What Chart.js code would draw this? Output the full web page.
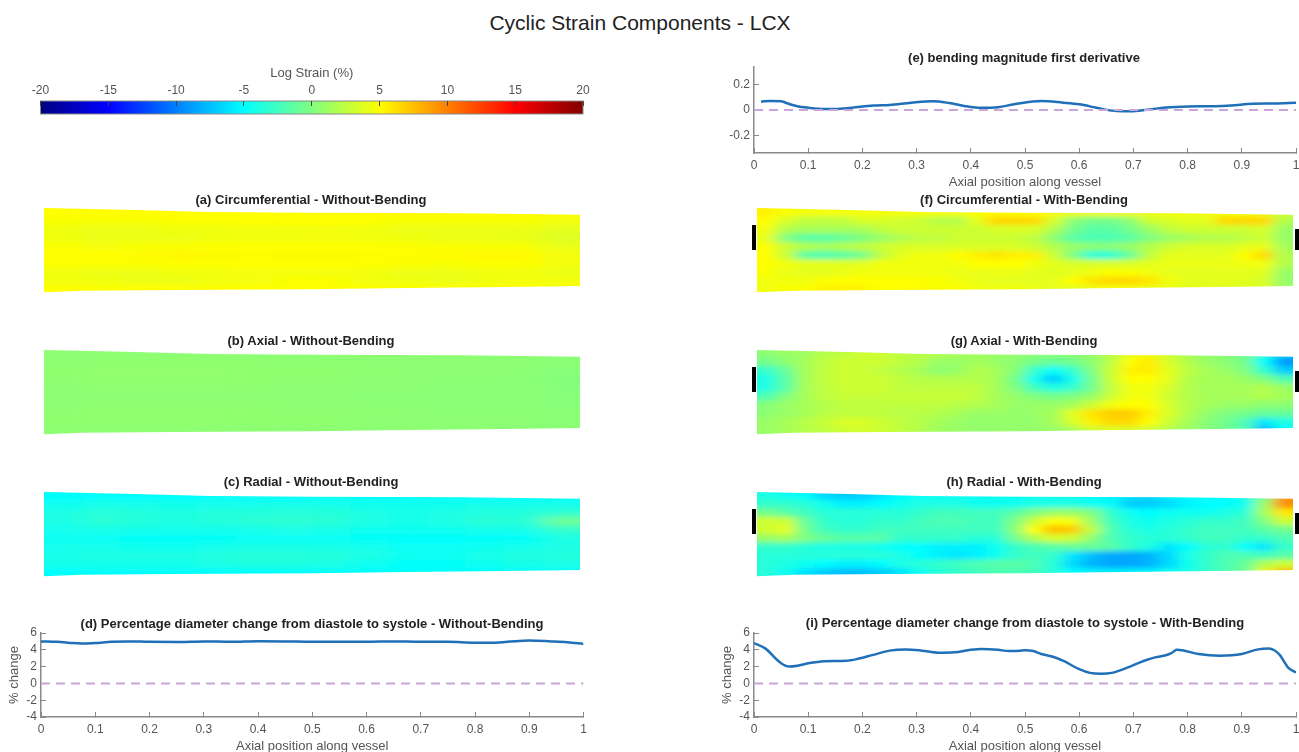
<!DOCTYPE html>
<html>
<head>
<meta charset="utf-8">
<title>Cyclic Strain Components - LCX</title>
<script src="https://cdn.jsdelivr.net/npm/chart.js@4"></script>
<style>
    html, body { margin: 0; padding: 0; background: #fff; width: 1299px; height: 752px; overflow: hidden; }
    body { filter: blur(0.4px); }
    canvas { position: absolute; display: block; }
    .txt { position: absolute; transform: translate(-50%, -50%); white-space: nowrap; color: #222; font-family: "Liberation Sans", Arial, sans-serif; }
    .panelTitle { font-size: 13px; font-weight: bold; }
    .heatWrap { position: absolute; overflow: hidden; }
</style>
</head>
<body>
<svg width="0" height="0" style="position:absolute">
    <filter id="blurFine" x="-5%" y="-10%" width="110%" height="120%"><feGaussianBlur stdDeviation="7 2.6"/></filter>
    <filter id="blurCoarse" x="-5%" y="-10%" width="110%" height="120%"><feGaussianBlur stdDeviation="13 3"/></filter>
</svg>
<div class="txt" style="left:640px;top:23px;font-size:21px">Cyclic Strain Components - LCX</div>
<script>
// Donnees
const axialTicks = [0, 0.1, 0.2, 0.3, 0.4, 0.5, 0.6, 0.7, 0.8, 0.9, 1];
const percentTicks = [-4, -2, 0, 2, 4, 6];
const derivativeTicks = [-0.2, 0, 0.2];
const strainTicks = [-20, -15, -10, -5, 0, 5, 10, 15, 20];
const zeroLineX = [0, 1];
const zeroLineY = [0, 0];

const diameterNoBendX = [0, .03, .06, .08, .1, .13, .16, .2, .25, .3, .35, .4, .45, .5, .55, .6, .65, .7, .75, .8, .83, .86, .9, .94, .97, 1];
const diameterNoBendY = [5, 4.95, 4.8, 4.75, 4.8, 4.95, 5, 4.95, 4.93, 5, 4.95, 5.02, 5, 4.95, 4.95, 4.95, 5, 4.95, 4.95, 4.85, 4.85, 4.95, 5.1, 5, 4.9, 4.7];

const derivativeX = [.013, .03, .05, .06, .08, .1, .13, .15, .18, .22, .25, .29, .33, .36, .39, .42, .45, .48, .53, .57, .6, .63, .66, .68, .7, .73, .76, .8, .85, .88, .92, .96, 1];
const derivativeY = [.066, .072, .07, .055, .03, .018, .008, .008, .018, .035, .04, .058, .07, .055, .03, .017, .022, .045, .071, .058, .045, .02, -.005, -.01, -.009, .005, .02, .028, .03, .035, .05, .052, .058];

const diameterBendX = [0, .02, .05, .065, .08, .1, .13, .17, .19, .22, .25, .28, .31, .34, .37, .4, .42, .45, .47, .49, .5, .515, .53, .55, .57, .6, .62, .64, .66, .69, .72, .74, .76, .77, .78, .79, .82, .86, .9, .93, .95, .96, .97, .98, .985, 1];
const diameterBendY = [4.8, 4.2, 2.4, 2, 2.1, 2.4, 2.65, 2.7, 2.9, 3.4, 3.9, 4.05, 3.9, 3.65, 3.7, 4, 4.1, 4, 3.85, 3.9, 3.95, 3.85, 3.5, 3.2, 2.7, 1.7, 1.25, 1.15, 1.25, 1.9, 2.7, 3.1, 3.35, 3.6, 4, 3.95, 3.5, 3.3, 3.5, 4.05, 4.15, 3.95, 3.4, 2.4, 1.9, 1.3];

// Contour du vaisseau (rayon par rapport a l'axe central)
const vesselTopX = [0, .17, .31, .5, .78, 1];
const vesselTopY = [42, 40, 38, 37.3, 36.7, 35.3];
const vesselBottomX = [0, .07, .24, .5, .64, .9, 1];
const vesselBottomY = [-42.3, -40.7, -40, -39.3, -38.3, -36.7, -36];
const clampX = [-0.0056, 1.0075];
const clampLeftY = [0, 25];
const clampRightY = [0, 21];

// Cartes de deformation (%), une ligne par rangee, de haut en bas
const circNoBend = [
    [5, 5, 5, 5, 5, 5, 5, 5, 5, 5, 5, 5, 5, 4.9],
    [4.8, 4.8, 4.8, 4.9, 4.9, 4.9, 5, 5, 4.9, 4.8, 4.8, 4.8, 4.8, 4.6],
    [4.4, 4.2, 4.3, 4.4, 4.4, 4.5, 4.5, 4.6, 4.4, 4.3, 4.2, 4.2, 4.2, 4],
    [4.4, 4.2, 4.2, 4.3, 4.4, 4.5, 4.5, 4.5, 4.5, 4.4, 4.2, 4.2, 4.1, 3.7],
    [4.8, 4.7, 4.8, 4.9, 5, 5, 5, 5, 5, 4.9, 4.9, 4.8, 4.8, 4.2],
    [5, 5, 5.1, 5.3, 5.2, 5.1, 5.2, 5.2, 5.1, 5.1, 5.1, 5.2, 5.2, 4.6],
    [4.9, 4.9, 4.9, 5, 5, 5, 5, 5, 5, 4.9, 4.8, 4.9, 4.9, 4.5],
    [4.4, 4.3, 4.3, 4.4, 4.5, 4.6, 4.7, 4.6, 4.5, 4.3, 4.2, 4.4, 4.5, 4.3],
    [4.5, 4.4, 4.3, 4.3, 4.5, 4.6, 4.8, 4.8, 4.5, 4.4, 4.3, 4.4, 4.6, 4.5],
    [5, 5, 5, 5, 5, 5, 5, 5, 5, 5, 5, 5, 5, 4.9]
];
const axialNoBend = [
    [.5, .5, .5, .5, .5, .5, .5, .5, .5, .5, .5, .5, .5, .4],
    [.5, .6, .6, .6, .6, .6, .5, .5, .5, .5, .5, .5, .5, .4],
    [.6, .7, .7, .7, .7, .6, .6, .6, .6, .5, .5, .5, .5, .3],
    [.6, .7, .7, .7, .7, .6, .6, .6, .5, .5, .5, .5, .4, .2],
    [.5, .6, .6, .6, .6, .6, .5, .5, .5, .5, .4, .4, .4, .2],
    [.5, .5, .5, .5, .5, .5, .5, .5, .4, .4, .4, .4, .4, .3],
    [.5, .6, .6, .6, .6, .6, .5, .5, .5, .5, .4, .4, .4, .3],
    [.6, .7, .7, .7, .7, .6, .6, .6, .6, .5, .5, .5, .5, .4],
    [.6, .7, .7, .7, .6, .6, .6, .6, .5, .5, .5, .5, .5, .4],
    [.5, .5, .5, .5, .5, .5, .5, .5, .5, .5, .5, .5, .4, .4]
];
const radialNoBend = [
    [-4.9, -4.9, -4.9, -4.9, -4.9, -4.9, -4.9, -4.9, -4.9, -4.9, -4.9, -4.9, -4.9, -4.8],
    [-4.5, -4.3, -4.3, -4.4, -4.3, -4.3, -4.3, -4.3, -4.4, -4.5, -4.5, -4.3, -4.3, -4.3],
    [-4, -3.5, -3.7, -3.9, -3.7, -3.6, -3.5, -3.6, -4, -4.1, -4, -3.7, -3.7, -3.4],
    [-4, -3.3, -3.6, -3.8, -3.6, -3.4, -3.2, -3.4, -3.9, -4.1, -3.9, -3.4, -3.5, -.5],
    [-4.3, -4.1, -4.2, -4.3, -4.3, -4.1, -4, -4.1, -4.4, -4.5, -4.4, -4.2, -4.2, -3],
    [-4.6, -4.7, -4.8, -4.8, -4.8, -4.7, -4.7, -4.7, -4.8, -4.9, -4.9, -4.9, -4.8, -4],
    [-4.3, -4.3, -4.4, -4.5, -4.3, -4.1, -4.1, -4.1, -4.3, -4.6, -4.6, -4.4, -4.3, -4],
    [-4.1, -3.9, -3.9, -4, -3.7, -3.5, -3.5, -3.6, -4, -4.5, -4.6, -4.1, -3.8, -3.7],
    [-4.3, -4.2, -4.2, -4.2, -4, -3.8, -3.8, -4, -4.4, -4.8, -4.8, -4.4, -4.1, -4],
    [-4.9, -4.9, -4.9, -4.9, -4.9, -4.9, -4.9, -4.9, -4.9, -4.9, -4.9, -4.9, -4.9, -4.8]
];
const circBend = [
    [5.5, 4.8, 4.6, 4.6, 4.6, 4.6, 4.6, 4.6, 4.6, 4.6, 4.6, 4.8, 5.2, 5.2, 5, 4.6, 4.5, 4.5, 4.5, 4.5, 4.5, 4.5, 4.5, 4.5, 4.5, 4.5, 4.2, 3],
    [5, 3.5, 2.5, 2.5, 2.5, 3.5, 3.5, 3.2, 3, 2, 2, 4, 6.5, 6.5, 6.5, 3.5, .5, -.5, -.5, .5, 3, 3.5, 4, 4, 6.5, 6.5, 6.5, 2],
    [4.5, 2, 1.5, 1.5, 1.5, 1.5, 2.5, 3, 3, 3, 3, 3, 3.5, 3.5, 3.5, 2, -.5, -1.5, -1.5, -.5, 1, 2.5, 3, 3, 3, 3, 3.5, 1],
    [4, 0, -1.5, -1.5, -1, 0, 1, 1.8, 2.5, 2.5, 3, 3, 3, 3, 2.5, .5, -1.5, -2, -2, -1.5, 0, 1, 1.5, 2, 2, 2.5, 3, 1],
    [4.8, 3, 2, 1.5, 2, 2.5, 3, 3.5, 3.5, 3.5, 3.5, 3.5, 3.5, 3.5, 3, 2, 1, .5, .5, 1, 2, 3, 3.5, 3.5, 3.5, 4, 4.2, 1.5],
    [5, 3, -1.5, -2, -1.5, -.5, 2.5, 4, 4.5, 4.5, 5, 5.5, 6, 5.5, 5.5, 3, 0, -3.5, -3.5, -1, 2.5, 4, 4, 4, 4, 5, 6.5, 2],
    [5, 4.5, 4, 4, 3.8, 4, 4.5, 4.5, 4.5, 4.5, 4.5, 5, 5, 5, 4.5, 4, 3.5, 3.5, 3.5, 3.5, 4, 4.2, 4.2, 4.2, 4.2, 4.5, 4.5, 2],
    [4.8, 4.2, 4, 4, 4.2, 4.5, 4.5, 4.5, 4.5, 4.5, 4.3, 4.2, 4.2, 4.2, 4, 3.8, 4, 4.5, 4.8, 4.8, 4.5, 4, 4, 4, 4, 4, 3.8, 1],
    [4.5, 4.5, 4.5, 4.8, 5, 5, 5, 5, 4.8, 4.8, 4.5, 4.3, 4, 4, 4, 4, 5, 6, 6.5, 6.5, 6, 4.5, 4, 4, 4, 3.8, 3.5, .8],
    [4.5, 4.8, 5, 5.5, 5.5, 5.5, 5, 5, 5, 4.8, 4.8, 4.5, 4.5, 4.5, 4.2, 4, 4, 4.2, 4.5, 4.5, 4.2, 4, 4, 4, 4, 3.8, 3.5, 1.5]
];
const axialBend = [
    [.5, 1, 1.2, 2, 2.5, 3, 3, 2.5, 2.2, 2, 1.5, 1.2, 1, .8, .5, .3, .5, 1, 2, 4, 4.5, 3, 1.5, .8, .3, -.5, -3, -7],
    [-.5, .5, 1.5, 2.5, 3, 3, 3, 2.5, 2, 1, 1, 1.5, 1, .5, -.5, -1, -.5, .5, 2.5, 5, 5.8, 3.5, 2, 1, .5, -.5, -5, -9],
    [-3, -1, 1.5, 2.5, 3, 3, 2.5, 2, 1.5, .5, 1, 2, 1.5, .3, -3, -5, -3, 0, 3, 5.5, 5.8, 4, 2.5, 1.5, 1, 0, -3, -7],
    [-4, -1.5, 1.5, 2.5, 3, 3, 3, 2.5, 2.2, 2, 2, 2, 1.5, -.5, -4.5, -7, -4.5, -.5, 3, 5, 5, 4, 2, 1.5, 1.5, 1, 0, -2],
    [-4, -1.5, 1.5, 2.5, 3, 3, 3, 2.5, 2.5, 2.5, 2.5, 2.5, 1.5, 0, -2.5, -4, -3, -.5, 2.5, 4.5, 4.5, 3.5, 2, 1.5, 1.5, 1.5, 2, 1],
    [-2, 0, 1.5, 2.5, 2.8, 2.8, 2.8, 2.8, 2.8, 2.8, 2.8, 2.5, 1.5, .8, 0, -.5, 0, .8, 3, 4.5, 4.5, 3, 2, 1.5, 1.5, 1.5, 2, 1.5],
    [.2, 1, 1.5, 2, 2.5, 2.5, 2.5, 2.5, 2.5, 2.5, 2.2, 2, 1.5, 1, 1, 1, 1.5, 3, 4.5, 5, 5, 3.5, 2, 1.5, 1, 1, .5, .5],
    [.5, 1, 1.5, 2.2, 2.5, 2.5, 2.5, 2.2, 2.2, 2, 1.5, 1, 1, .8, 1, 1.5, 4, 6, 7, 7, 5.5, 3.5, 2, .8, 0, -.5, -1, -1],
    [1, 1.5, 2.2, 2.8, 3.5, 3.5, 3, 2.5, 2, 1.5, 1, .8, .8, .8, .8, 1.5, 3.5, 5.5, 6.5, 6.5, 5, 3, 1.5, .3, -.5, -2, -6, -4],
    [1, 1.5, 2, 2.5, 3, 3.2, 3, 2.5, 2, 1.2, 1, .8, .8, .8, .8, .8, 1.5, 3, 3.5, 3.5, 3, 2, 1, .3, -.5, -2, -8, -5]
];
const radialBend = [
    [-4, -4.5, -5, -6.5, -7, -7, -6, -5, -4.5, -4.5, -4.5, -4.5, -4.5, -4.5, -4.5, -4.5, -4.5, -5, -5.5, -6, -6.5, -5.5, -5, -5, -5, -4, -1, 9],
    [-3, -3, -3.5, -4.5, -5.5, -5.5, -5, -4.5, -4, -4, -4, -4.5, -4.5, -4.5, -4, -4, -4, -4.5, -5, -7, -7, -6.5, -5.5, -5, -5, -4.5, 1, 9.5],
    [-.5, -1.5, -2.5, -3.5, -3.5, -3.5, -3.5, -3.5, -3, -2.5, -2.5, -2.5, -2.5, -1.5, 0, 1, 1, 0, -3, -4.5, -5, -4.5, -4.5, -4.5, -4, -3.5, 1.5, 6],
    [3, 3, -1, -3, -3.5, -3.5, -3, -3, -2.5, -2, -2, -2.5, -2.5, 0, 3, 5, 4.5, 1, -2.5, -4, -4.5, -4, -3.5, -3, -3, -2.5, 0, 3],
    [3, 4, -.5, -2.5, -3, -3, -2.5, -2.5, -2.5, -2.5, -2.5, -2.5, -2.5, .5, 5, 7.5, 7, 2.5, -2, -3.5, -4, -3.5, -3, -2.5, -2.5, -2.5, -1.5, -.5],
    [1, 1.5, 0, -1, -1.5, -1.5, -1.5, -3, -3, -3, -3, -3.5, -3.5, -.5, 2, 3.5, 3, .5, -2, -3, -3.5, -3.5, -3, -2.5, -2.5, -3, -3, -2],
    [-3, -3, -3.5, -4, -4, -4, -4.5, -5, -5, -5.5, -5.5, -5.5, -4.5, -3, -2, -1.5, -1, -1, -1.5, -3, -4, -6, -5, -3.5, -3, -5, -6, -3],
    [-3.5, -3.5, -3.5, -3.5, -3.5, -3.5, -3.5, -4, -5, -5.5, -6, -5.5, -4.5, -3, -2.5, -3, -6, -7.5, -8.5, -8.5, -8, -6.5, -4, -3, -2, -2, -2.5, -1.5],
    [-3.5, -4, -4.5, -5, -5.5, -5.5, -5, -4, -3.5, -3, -2.5, -2, -1.5, -1.5, -2, -3.5, -6.5, -8, -8.5, -8.5, -8, -6.5, -4.5, -3, -2, -1, 2, 3],
    [-3.5, -4.5, -6, -7, -7.5, -7.5, -7, -6, -4.5, -3.5, -3, -2.5, -2, -2, -2.5, -3.5, -5, -5.5, -5.5, -5.5, -5.5, -4.5, -4, -3, -2, -1, 4, 8]
];

Chart.defaults.font.family = '"Liberation Sans", Arial, sans-serif';
Chart.defaults.color = '#555';
Chart.defaults.animation = false;

const AXIS_COLOR = '#8a8a8a';
const LINE_COLOR = '#1f70b8';
const ZERO_COLOR = '#c9a5d9';

// Palette jet de MATLAB sur [-20, 20]
function jet(v) {
    const t = Math.min(1, Math.max(0, (v + 20) / 40));
    const c = x => Math.round(255 * Math.min(1, Math.max(0, 1.5 - Math.abs(4 * t - x))));
    return `rgb(${c(3)},${c(2)},${c(1)})`;
}

function addCanvas(parent, x, y, w, h) {
    const canvas = document.createElement('canvas');
    canvas.width = w;
    canvas.height = h;
    canvas.style.left = x + 'px';
    canvas.style.top = y + 'px';
    canvas.style.width = w + 'px';
    canvas.style.height = h + 'px';
    parent.appendChild(canvas);
    return canvas;
}

function addTitle(text, x, y) {
    const el = document.createElement('div');
    el.className = 'txt panelTitle';
    el.style.left = x + 'px';
    el.style.top = y + 'px';
    el.textContent = text;
    document.body.appendChild(el);
}

const toPoints = (xs, ys) => xs.map((x, i) => ({ x: x, y: ys[i] }));

// Graphique en ligne sous les cartes
function lineChart(plot, xs, ys, yTicks, yMin, yMax, yTitle) {
    const axisW = 40, axisH = 37, topPad = 20;
    const plotW = plot.right - plot.left;
    const canvasW = Math.ceil(plotW + axisW + 20);
    const rightPad = canvasW - axisW - plotW;
    const canvas = addCanvas(document.body, plot.left - axisW, plot.top - topPad,
        canvasW, Math.ceil(plot.bottom - plot.top) + axisH + topPad);
    new Chart(canvas, {
        type: 'line',
        data: {
            datasets: [
                { data: toPoints(zeroLineX, zeroLineY), borderColor: ZERO_COLOR, borderWidth: 2, borderDash: [9, 6], pointRadius: 0 },
                { data: toPoints(xs, ys), borderColor: LINE_COLOR, borderWidth: 2.5, pointRadius: 0, cubicInterpolationMode: 'monotone' }
            ]
        },
        options: {
            responsive: false,
            layout: { autoPadding: false, padding: { top: topPad, right: rightPad, left: 0, bottom: 0 } },
            plugins: { legend: { display: false }, tooltip: { enabled: false } },
            scales: {
                x: {
                    type: 'linear', min: 0, max: 1,
                    afterFit: s => { s.height = axisH; },
                    afterBuildTicks: s => { s.ticks = axialTicks.map(v => ({ value: v })); },
                    border: { color: AXIS_COLOR, width: 1.5 },
                    grid: { drawOnChartArea: false, tickLength: -5, color: AXIS_COLOR },
                    ticks: { padding: 10, maxRotation: 0, autoSkip: false, font: { size: 12 }, callback: v => String(v) },
                    title: { display: true, text: 'Axial position along vessel', font: { size: 13 }, padding: 0 }
                },
                y: {
                    min: yMin, max: yMax,
                    afterFit: s => { s.width = axisW; },
                    afterBuildTicks: s => { s.ticks = yTicks.map(v => ({ value: v })); },
                    border: { color: AXIS_COLOR, width: 1.5 },
                    grid: { drawOnChartArea: false, tickLength: -5, color: AXIS_COLOR },
                    ticks: { padding: 9, autoSkip: false, font: { size: 12 }, callback: v => String(v) },
                    title: { display: !!yTitle, text: yTitle, font: { size: 13 }, padding: { top: 6, bottom: 0 } }
                }
            }
        }
    });
}

// Carte : barres empilees floutees, puis masque blanc suivant le contour du vaisseau
function heatPanel(rows, left, centre, blurId, clamps) {
    const width = 536, half = 50, rowH = 8.6, edge = 6;
    const nCols = rows[0].length;
    const cellW = width / nCols;
    const padded = [rows[0], ...rows, rows[rows.length - 1]].map(r => [r[0], ...r, r[nCols - 1]]);

    const wrap = document.createElement('div');
    wrap.className = 'heatWrap';
    wrap.style.cssText = `left:${left}px;top:${centre - half}px;width:${width}px;height:${half * 2}px`;
    document.body.appendChild(wrap);

    const heatH = Math.round(rowH * padded.length);
    const heat = addCanvas(wrap, -cellW, half - heatH / 2, Math.round(cellW * (nCols + 2)), heatH);
    heat.style.filter = `url(#${blurId})`;
    new Chart(heat, {
        type: 'bar',
        data: {
            labels: padded[0].map((_, i) => i),
            datasets: padded.map(row => ({
                data: row.map(() => 1),
                backgroundColor: row.map(jet),
                barPercentage: 1,
                categoryPercentage: 1
            }))
        },
        options: {
            responsive: false,
            layout: { autoPadding: false, padding: 0 },
            plugins: { legend: { display: false }, tooltip: { enabled: false } },
            scales: {
                x: { display: false, stacked: true },
                y: { display: false, stacked: true, reverse: true, min: 0, max: padded.length }
            }
        }
    });

    const datasets = [
        { data: toPoints(vesselTopX, vesselTopY), fill: 'end', backgroundColor: '#fff', borderWidth: 0, pointRadius: 0 },
        { data: toPoints(vesselBottomX, vesselBottomY), fill: 'start', backgroundColor: '#fff', borderWidth: 0, pointRadius: 0 }
    ];
    if (clamps) {
        datasets.push({ data: toPoints([clampX[0], clampX[0]], clampLeftY), borderColor: '#000', borderWidth: 4, pointRadius: 0 });
        datasets.push({ data: toPoints([clampX[1], clampX[1]], clampRightY), borderColor: '#000', borderWidth: 4, pointRadius: 0 });
    }
    const mask = addCanvas(document.body, left - edge, centre - half, width + edge * 2, half * 2);
    new Chart(mask, {
        type: 'line',
        data: { datasets: datasets },
        options: {
            responsive: false,
            layout: { autoPadding: false, padding: 0 },
            plugins: { legend: { display: false }, tooltip: { enabled: false } },
            scales: {
                x: { type: 'linear', display: false, min: -edge / width, max: 1 + edge / width },
                y: { display: false, min: -half, max: half }
            }
        }
    });
}

// Barre de couleur
function colorBar() {
    const plot = { left: 40.5, right: 583, top: 101, bottom: 114 };
    const leftPad = 24.5, rightPad = 30, topPad = 35;
    const canvas = addCanvas(document.body, plot.left - leftPad, plot.top - topPad,
        plot.right - plot.left + leftPad + rightPad, plot.bottom - plot.top + topPad + 2);
    const frame = {
        id: 'frame',
        afterDatasetsDraw(chart) {
            const a = chart.chartArea, c = chart.ctx;
            c.save();
            c.strokeStyle = AXIS_COLOR;
            c.lineWidth = 1;
            c.strokeRect(a.left, a.top, a.right - a.left, a.bottom - a.top);
            c.restore();
        }
    };
    new Chart(canvas, {
        type: 'line',
        data: {
            datasets: [{
                data: toPoints([strainTicks[0], strainTicks[strainTicks.length - 1]], [1, 1]),
                fill: 'origin',
                borderWidth: 0,
                pointRadius: 0,
                backgroundColor: ctx => {
                    const a = ctx.chart.chartArea;
                    if (!a) return '#000';
                    const g = ctx.chart.ctx.createLinearGradient(a.left, 0, a.right, 0);
                    for (let v = -20; v <= 20; v += 1) g.addColorStop((v + 20) / 40, jet(v));
                    return g;
                }
            }]
        },
        options: {
            responsive: false,
            layout: { autoPadding: false, padding: { left: leftPad, right: rightPad, bottom: 2, top: 0 } },
            plugins: { legend: { display: false }, tooltip: { enabled: false } },
            scales: {
                x: {
                    type: 'linear', position: 'top', min: -20, max: 20,
                    afterFit: s => { s.height = topPad; },
                    afterBuildTicks: s => { s.ticks = strainTicks.map(v => ({ value: v })); },
                    border: { display: false },
                    grid: { drawOnChartArea: false, tickLength: -5, color: '#444', z: 1 },
                    ticks: { padding: 8, maxRotation: 0, autoSkip: false, font: { size: 12 } },
                    title: { display: true, text: 'Log Strain (%)', font: { size: 13 }, padding: 0 }
                },
                y: { display: false, min: 0, max: 1 }
            }
        },
        plugins: [frame]
    });
}

// Lancer le dessin
colorBar();

heatPanel(circNoBend, 44, 250, 'blurCoarse', false);
heatPanel(axialNoBend, 44, 391.5, 'blurCoarse', false);
heatPanel(radialNoBend, 44, 533.5, 'blurCoarse', false);
heatPanel(circBend, 757, 250, 'blurFine', true);
heatPanel(axialBend, 757, 391.5, 'blurFine', true);
heatPanel(radialBend, 757, 533.5, 'blurFine', true);

lineChart({ left: 40.5, right: 583, top: 633, bottom: 717 }, diameterNoBendX, diameterNoBendY, percentTicks, -4, 6, '% change');
lineChart({ left: 754, right: 1296, top: 633, bottom: 717 }, diameterBendX, diameterBendY, percentTicks, -4, 6, '% change');
lineChart({ left: 754, right: 1296, top: 67, bottom: 152.5 }, derivativeX, derivativeY, derivativeTicks, -0.34, 0.34, '');

addTitle('(a) Circumferential - Without-Bending', 311, 199);
addTitle('(b) Axial - Without-Bending', 311, 340);
addTitle('(c) Radial - Without-Bending', 311, 481);
addTitle('(d) Percentage diameter change from diastole to systole - Without-Bending', 312, 623);
addTitle('(e) bending magnitude first derivative', 1024, 57);
addTitle('(f) Circumferential - With-Bending', 1024, 199);
addTitle('(g) Axial - With-Bending', 1024, 340);
addTitle('(h) Radial - With-Bending', 1024, 481);
addTitle('(i) Percentage diameter change from diastole to systole - With-Bending', 1025, 622);
</script>
</body>
</html>
